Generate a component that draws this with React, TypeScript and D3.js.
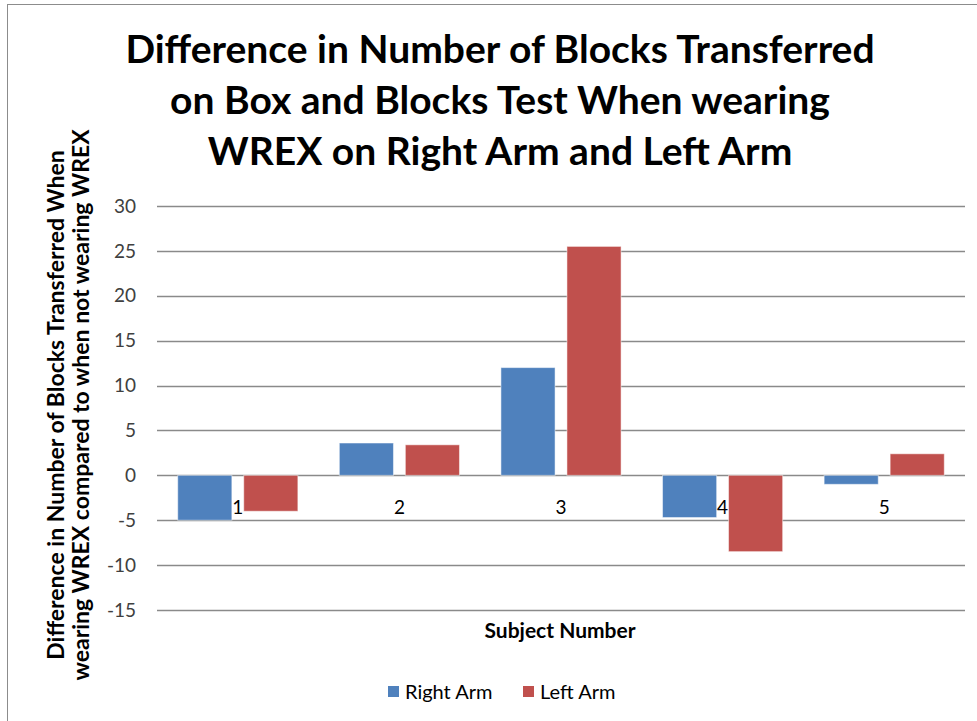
import { useEffect, useRef } from "react";
import * as d3 from "d3";

const subjects = ["1", "2", "3", "4", "5"];
const seriesNames = ["Right Arm", "Left Arm"];
const rightArm = [-5, 3.6, 12, -4.7, -1];
const leftArm = [-4, 3.4, 25.5, -8.5, 2.4];
const yTicks = [30, 25, 20, 15, 10, 5, 0, -5, -10, -15];
const colors = ["#4F81BD", "#C0504D"];
const titleLines = [
	"Difference in Number of Blocks Transferred",
	"on Box and Blocks Test When wearing",
	"WREX on Right Arm and Left Arm",
];
const yTitleLines = [
	"Difference in Number of Blocks  Transferred When",
	"wearing WREX compared to when not wearing WREX",
];

const W = 977;
const H = 721;
const font = "Lato, 'Open Sans', sans-serif";

export default function App() {
	const svgRef = useRef<SVGSVGElement>(null);

	useEffect(() => {
		const svg = d3.select(svgRef.current);
		svg.selectAll("*").remove();

		const left = 157;
		const right = 965;
		const y = d3.scaleLinear().domain([-15, 30]).range([610, 206]);
		const x = d3.scaleBand().domain(subjects).range([left, right]);
		const inner = d3
			.scaleBand()
			.domain(seriesNames)
			.range([0, x.bandwidth()])
			.paddingInner(0.18)
			.paddingOuter(0.314);

		// frame
		svg.append("rect")
			.attr("x", 7.5)
			.attr("y", 4.5)
			.attr("width", W)
			.attr("height", H)
			.attr("fill", "#fff")
			.attr("stroke", "#8c8c8c");

		// title
		svg.append("g")
			.selectAll("text")
			.data(titleLines)
			.enter()
			.append("text")
			.attr("x", 500)
			.attr("y", (_, i) => 63 + i * 51)
			.attr("text-anchor", "middle")
			.attr("font-family", font)
			.attr("font-weight", "bold")
			.attr("font-size", 39)
			.attr("fill", "#000")
			.text((d) => d);

		// gridlines
		svg.append("g")
			.selectAll("line")
			.data(yTicks)
			.enter()
			.append("line")
			.attr("x1", left)
			.attr("x2", right)
			.attr("y1", (d) => Math.round(y(d)) + 0.5)
			.attr("y2", (d) => Math.round(y(d)) + 0.5)
			.attr("stroke", "#8a8a8a")
			.attr("stroke-width", 1.5);

		// tick labels
		svg.append("g")
			.selectAll("text")
			.data(yTicks)
			.enter()
			.append("text")
			.attr("x", 136)
			.attr("y", (d) => y(d))
			.attr("dy", "0.35em")
			.attr("text-anchor", "end")
			.attr("font-family", font)
			.attr("font-size", 19)
			.attr("fill", "#404040")
			.text((d) => d);

		// bars
		const data = [rightArm, leftArm];
		data.forEach((vals, si) => {
			svg.append("g")
				.selectAll("rect")
				.data(vals)
				.enter()
				.append("rect")
				.attr("x", (_, i) => (x(subjects[i]) ?? 0) + (inner(seriesNames[si]) ?? 0))
				.attr("width", inner.bandwidth())
				.attr("y", (d) => y(Math.max(0, d)))
				.attr("height", (d) => Math.abs(y(d) - y(0)))
				.attr("fill", colors[si])
				.attr("stroke", "#fff")
				.attr("stroke-opacity", 0.5)
				.attr("stroke-width", 1);
		});

		// category labels
		svg.append("g")
			.selectAll("text")
			.data(subjects)
			.enter()
			.append("text")
			.attr("x", (d) => (x(d) ?? 0) + x.bandwidth() / 2)
			.attr("y", y(0) + 32)
			.attr("dy", "0.35em")
			.attr("text-anchor", "middle")
			.attr("font-family", font)
			.attr("font-size", 19)
			.attr("fill", "#000")
			.text((d) => d);

		// x axis title
		svg.append("text")
			.attr("x", 560)
			.attr("y", 631)
			.attr("dy", "0.35em")
			.attr("text-anchor", "middle")
			.attr("font-family", font)
			.attr("font-weight", "bold")
			.attr("font-size", 21)
			.text("Subject Number");

		// y axis title
		svg.append("g")
			.selectAll("text")
			.data(yTitleLines)
			.enter()
			.append("text")
			.attr("transform", (_, i) => `translate(${56 + i * 25},405) rotate(-90)`)
			.attr("dy", "0.35em")
			.attr("text-anchor", "middle")
			.attr("font-family", font)
			.attr("font-weight", "bold")
			.attr("font-size", 23)
			.text((d) => d);

		// legend
		const legendX = [388, 523];
		const lg = svg.append("g");
		seriesNames.forEach((name, i) => {
			lg.append("rect")
				.attr("x", legendX[i])
				.attr("y", 686)
				.attr("width", 11)
				.attr("height", 11)
				.attr("fill", colors[i]);
			lg.append("text")
				.attr("x", legendX[i] + 17)
				.attr("y", 692)
				.attr("dy", "0.35em")
				.attr("font-family", font)
				.attr("font-size", 20)
				.attr("fill", "#000")
				.text(name);
		});
	}, []);

	return (
		<svg
			ref={svgRef}
			width={W}
			height={H}
			style={{ position: "absolute", left: 0, top: 0 }}
		/>
	);
}
